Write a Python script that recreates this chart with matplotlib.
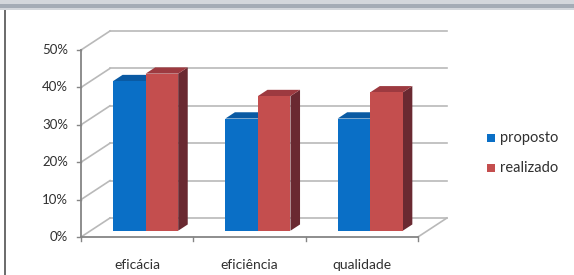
import matplotlib
matplotlib.use("Agg")
import matplotlib.pyplot as plt
from matplotlib.patches import Polygon, Rectangle

# ---- data ----
categories = ["eficácia", "eficiência", "qualidade"]
series_names = ["proposto", "realizado"]
proposto = [40, 30, 30]
realizado = [42, 36, 37]
y_ticks = [0, 10, 20, 30, 40, 50]
y_tick_labels = ["0%", "10%", "20%", "30%", "40%", "50%"]

# ---- style / layout ----
W, H = 574, 275
fig = plt.figure(figsize=(W / 100, H / 100), dpi=100)
fig.patch.set_facecolor("white")
ax = fig.add_axes([0, 0, 1, 1])
ax.set_axis_off()

# pixel mapping of front plane
x0_px, ux_px = 81, 112.3
y0_px, vy_px = 237, 3.74
ax.set_xlim(-x0_px / ux_px, (W - x0_px) / ux_px)
ax.set_ylim(-(H - y0_px) / vy_px, y0_px / vy_px)

DU = 29 / ux_px
DV = 19 / vy_px

def proj(u, v, z):
    return (u + z * DU, v + z * DV)

grid_c = "#b9b9b9"
axis_c = "#858585"
text_c = "#303030"
font = ["Lato", "DejaVu Sans"]
n = len(categories)
vmax = y_ticks[-1]

for t in y_ticks:
    bx0, by = proj(0, t, 1)
    bx1, _ = proj(n, t, 1)
    ax.plot([bx0, bx1], [by, by], color=grid_c, lw=1.2, zorder=1)
    ax.plot([0, bx0], [t, by], color=grid_c, lw=1.2, zorder=1)

fx, fy = proj(n, 0, 1)
ax.plot([n, fx], [0, fy], color=grid_c, lw=1.2, zorder=1)
ax.plot([0, n], [0, 0], color=axis_c, lw=1.3, zorder=2)
ax.plot([0, 0], [0, vmax], color=axis_c, lw=1.3, zorder=2)
for t, lab in zip(y_ticks, y_tick_labels):
    ax.plot([-0.035, 0], [t, t], color=axis_c, lw=1.0, zorder=2)
    ax.text(-0.115, t, lab, ha="right", va="center", fontsize=9.5,
            color=text_c, family=font)
for i in range(n + 1):
    ax.plot([i, i], [0, -1.1], color=axis_c, lw=1.0, zorder=2)
for i, c in enumerate(categories):
    ax.text(i + 0.5, -7.5, c, ha="center", va="center", fontsize=10,
            color=text_c, family=font)

# bars
zf, zb = 0.33, 0.66
bw = 0.29
offsets = [0.2, 0.49]
colors = [
    dict(front="#0a6fc6", top="#0a5aa3", side="#0b4a80"),
    dict(front="#c44e4e", top="#9d3a40", side="#6a2931"),
]
series = [proposto, realizado]
for i in range(n):
    for s in range(len(series)):
        val = series[s][i]
        l = i + offsets[s]
        r = l + bw
        col = colors[s]
        front = [proj(l, 0, zf), proj(r, 0, zf), proj(r, val, zf), proj(l, val, zf)]
        top = [proj(l, val, zf), proj(r, val, zf), proj(r, val, zb), proj(l, val, zb)]
        side = [proj(r, 0, zf), proj(r, 0, zb), proj(r, val, zb), proj(r, val, zf)]
        zo = 3 + i * 2 + s
        ax.add_patch(Polygon(side, closed=True, facecolor=col["side"], edgecolor="none", zorder=zo))
        ax.add_patch(Polygon(top, closed=True, facecolor=col["top"], edgecolor="none", zorder=zo))
        ax.add_patch(Polygon(front, closed=True, facecolor=col["front"], edgecolor="none", zorder=zo))

# legend
leg_x = 487 / W
leg_ys = [1 - 138 / H, 1 - 168 / H]
for s, name in enumerate(series_names):
    ax.add_patch(Rectangle((leg_x, leg_ys[s] - 4 / H), 8 / W, 8 / H,
                           transform=ax.transAxes, facecolor=colors[s]["front"],
                           edgecolor="none", zorder=10))
    ax.text(leg_x + 13 / W, leg_ys[s], name, transform=ax.transAxes,
            ha="left", va="center", fontsize=10.5, color=text_c, family=font)

# window frame: top gray band and left border
fig.patches.append(Rectangle((0, 1 - 10 / H), 1, 10 / H, transform=fig.transFigure,
                             facecolor="#d3d7dc", edgecolor="none", zorder=20))
fig.patches.append(Rectangle((0, 1 - 8 / H), 1, 4 / H, transform=fig.transFigure,
                             facecolor="#a4acb6", edgecolor="none", zorder=21))
fig.patches.append(Rectangle((4 / W, 0), 2 / W, 1 - 10 / H, transform=fig.transFigure,
                             facecolor="#6e6e6e", edgecolor="none", zorder=20))

fig.savefig("out.png", dpi=100)
